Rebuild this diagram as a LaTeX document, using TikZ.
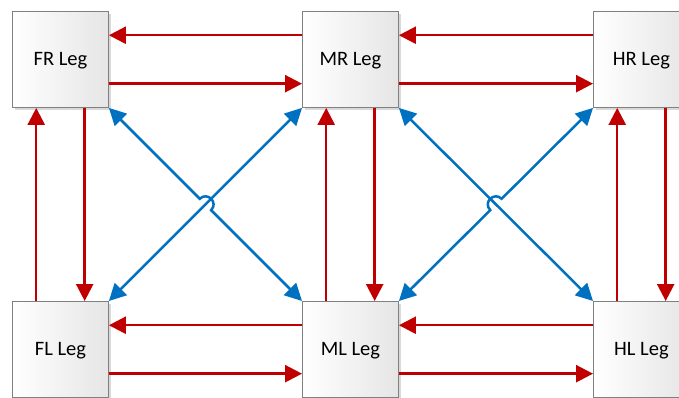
\documentclass[tikz,border=0pt]{standalone}
\usepackage{fontspec}
\setmainfont{Carlito}
\usetikzlibrary{arrows.meta,calc,shadows}
\definecolor{ored}{HTML}{C00000}
\definecolor{oblue}{HTML}{0070C0}
\begin{document}
\begin{tikzpicture}[x=1pt,y=-1pt,
 leg/.style={draw=black!50, line width=0.9pt, minimum size=96pt, inner sep=0pt, anchor=north west,
   left color=white, right color=black!10, text height=13pt, text depth=0pt,
   drop shadow={shadow xshift=3pt, shadow yshift=-3pt, fill=black!15, opacity=1},
   font=\fontsize{20.5}{24}\selectfont},
 rarr/.style={draw=ored, line width=2.5pt, -{Triangle[length=17pt,width=17pt]}},
 barr/.style={draw=oblue, line width=2.5pt, {Triangle[length=17pt,width=17pt]}-{Triangle[length=17pt,width=17pt]}}]
\useasboundingbox (0,0) rectangle (679,398);
\clip (0,0) rectangle (679,398);
\node[leg] (fr) at (12,11) {FR Leg};
\node[leg] (mr) at (302,11) {MR Leg};
\node[leg] (hr) at (593,11) {HR Leg};
\node[leg] (fl) at (12,301) {FL Leg};
\node[leg] (ml) at (302,301) {ML Leg};
\node[leg] (hl) at (593,301) {HL Leg};
% top row
\draw[rarr] ($(mr.north west)!.25!(mr.south west)$) -- ($(fr.north east)!.25!(fr.south east)$);
\draw[rarr] ($(fr.north east)!.75!(fr.south east)$) -- ($(mr.north west)!.75!(mr.south west)$);
\draw[rarr] ($(hr.north west)!.25!(hr.south west)$) -- ($(mr.north east)!.25!(mr.south east)$);
\draw[rarr] ($(mr.north east)!.75!(mr.south east)$) -- ($(hr.north west)!.75!(hr.south west)$);
% bottom row
\draw[rarr] ($(ml.north west)!.25!(ml.south west)$) -- ($(fl.north east)!.25!(fl.south east)$);
\draw[rarr] ($(fl.north east)!.75!(fl.south east)$) -- ($(ml.north west)!.75!(ml.south west)$);
\draw[rarr] ($(hl.north west)!.25!(hl.south west)$) -- ($(ml.north east)!.25!(ml.south east)$);
\draw[rarr] ($(ml.north east)!.75!(ml.south east)$) -- ($(hl.north west)!.75!(hl.south west)$);
% verticals
\draw[rarr] ($(fl.north west)!.25!(fl.north east)$) -- ($(fr.south west)!.25!(fr.south east)$);
\draw[rarr] ($(fr.south west)!.75!(fr.south east)$) -- ($(fl.north west)!.75!(fl.north east)$);
\draw[rarr] ($(ml.north west)!.25!(ml.north east)$) -- ($(mr.south west)!.25!(mr.south east)$);
\draw[rarr] ($(mr.south west)!.75!(mr.south east)$) -- ($(ml.north west)!.75!(ml.north east)$);
\draw[rarr] ($(hl.north west)!.25!(hl.north east)$) -- ($(hr.south west)!.25!(hr.south east)$);
\draw[rarr] ($(hr.south west)!.75!(hr.south east)$) -- ($(hl.north west)!.75!(hl.north east)$);
% blue diagonals, left pair
\coordinate (c1) at ($(fr.south east)!.5!(ml.north west)$);
\coordinate (c1a) at ($(c1)!8pt!(fr.south east)$);
\coordinate (c1b) at ($(c1)!8pt!(ml.north west)$);
\coordinate (c1n) at ($(c1)!10.7pt!(mr.south west)$);
\draw[barr] (fl.north east) -- (mr.south west);
\draw[barr] (fr.south east) -- (c1a) .. controls ($(c1a)+(c1n)-(c1)$) and ($(c1b)+(c1n)-(c1)$) .. (c1b) -- (ml.north west);
% blue diagonals, right pair
\coordinate (c2) at ($(mr.south east)!.5!(hl.north west)$);
\coordinate (c2a) at ($(c2)!8pt!(hr.south west)$);
\coordinate (c2b) at ($(c2)!8pt!(ml.north east)$);
\coordinate (c2n) at ($(c2)!10.7pt!(mr.south east)$);
\draw[barr] (mr.south east) -- (hl.north west);
\draw[barr] (hr.south west) -- (c2a) .. controls ($(c2a)+(c2n)-(c2)$) and ($(c2b)+(c2n)-(c2)$) .. (c2b) -- (ml.north east);
\end{tikzpicture}
\end{document}
